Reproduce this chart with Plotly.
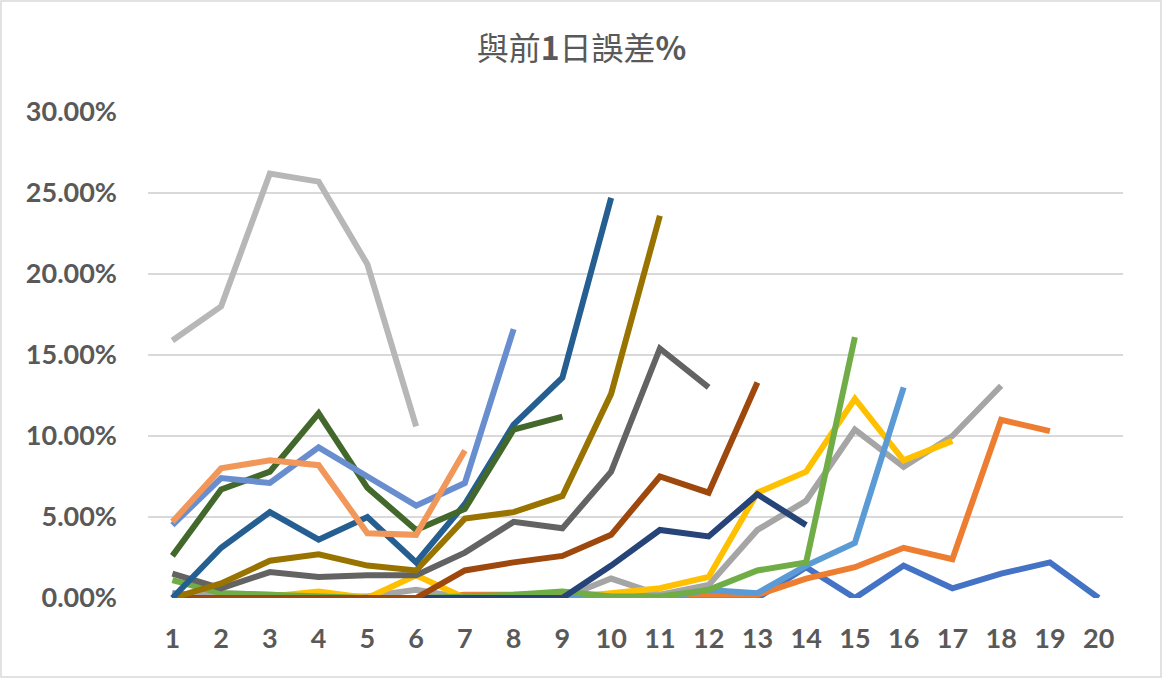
import plotly.graph_objects as go

categories = [str(i) for i in range(1, 21)]
N = None

s01 = [0.3, 0, 0, 0, 0, 0, 0, 0, 0, 0, 0, 0, 0, 1.9, 0, 2.0, 0.6, 1.5, 2.2, 0]
s02 = [0, 0, 0, 0, 0, 0, 0.2, 0.2, 0.2, 0.2, 0.2, 0.2, 0.2, 1.2, 1.9, 3.1, 2.4, 11.0, 10.3, N]
s03 = [0.2, 0.3, 0.2, 0.1, 0.1, 0.5, 0, 0, 0, 1.2, 0.2, 0.8, 4.2, 6.0, 10.4, 8.1, 10.0, 13.1, N, N]
s04 = [0, 0, 0.1, 0.4, 0, 1.4, 0, 0, 0, 0.3, 0.6, 1.3, 6.5, 7.8, 12.3, 8.5, 9.7, N, N, N]
s05 = [0, 0, 0, 0, 0, 0, 0, 0, 0, 0, 0, 0.5, 0.3, 2.0, 3.4, 13.0, N, N, N, N]
s06 = [1.1, 0.3, 0.2, 0.1, 0, 0, 0.1, 0.2, 0.4, 0.1, 0.1, 0.5, 1.7, 2.2, 16.1, N, N, N, N, N]
s07 = [0, 0, 0, 0, 0, 0, 0, 0, 0, 2.0, 4.2, 3.8, 6.4, 4.5, N, N, N, N, N, N]
s08 = [0, 0, 0, 0, 0, 0, 1.7, 2.2, 2.6, 3.9, 7.5, 6.5, 13.3, N, N, N, N, N, N, N]
s09 = [1.5, 0.6, 1.6, 1.3, 1.4, 1.4, 2.8, 4.7, 4.3, 7.8, 15.4, 13.0, N, N, N, N, N, N, N, N]
s10 = [0, 0.9, 2.3, 2.7, 2.0, 1.7, 4.9, 5.3, 6.3, 12.6, 23.6, N, N, N, N, N, N, N, N, N]
s11 = [0, 3.1, 5.3, 3.6, 5.0, 2.2, 5.8, 10.7, 13.6, 24.7, N, N, N, N, N, N, N, N, N, N]
s12 = [2.6, 6.7, 7.8, 11.4, 6.8, 4.2, 5.5, 10.4, 11.2, N, N, N, N, N, N, N, N, N, N, N]
s13 = [4.5, 7.4, 7.1, 9.3, 7.5, 5.7, 7.1, 16.6, N, N, N, N, N, N, N, N, N, N, N, N]
s14 = [4.7, 8.0, 8.5, 8.2, 4.0, 3.9, 9.1, N, N, N, N, N, N, N, N, N, N, N, N, N]
s15 = [15.9, 18.0, 26.2, 25.7, 20.6, 10.6, N, N, N, N, N, N, N, N, N, N, N, N, N, N]

series = [s01, s02, s03, s04, s05, s06, s07, s08, s09, s10, s11, s12, s13, s14, s15]
colors = ["#4472C4", "#ED7D31", "#A5A5A5", "#FFC000", "#5B9BD5", "#70AD47",
          "#264478", "#9E480E", "#636363", "#997300", "#255E91", "#43682B",
          "#698ED0", "#F1975A", "#B7B7B7"]

fig = go.Figure()
for i, (vals, c) in enumerate(zip(series, colors)):
    fig.add_trace(go.Scatter(
        x=categories,
        y=[v / 100 if v is not None else None for v in vals],
        mode="lines",
        name=f"Series{i+1}",
        line=dict(color=c, width=6, shape="linear"),
        connectgaps=False,
    ))

tick_font = dict(family="Lato", size=27, color="#595959", weight="bold")

fig.update_layout(
    width=1163, height=680,
    paper_bgcolor="white", plot_bgcolor="white",
    margin=dict(l=148, r=40, t=112, b=82),
    showlegend=False,
    title=dict(text="與前<b>1</b>日誤差<b>%</b>", x=0.5, xanchor="center", y=0.928, yanchor="middle",
               font=dict(family="Noto Sans CJK TC", size=32, color="#595959")),
    xaxis=dict(type="category", range=[-0.5, 19.5], showgrid=False, zeroline=False,
               showline=False, ticks="", ticklabelstandoff=22, tickfont=tick_font),
    yaxis=dict(range=[0, 0.30], dtick=0.05, tickformat=".2%", showgrid=True,
               gridcolor="#D9D9D9", gridwidth=2, zeroline=False, showline=False,
               ticks="", ticklabelstandoff=30, tickfont=tick_font),
    shapes=[dict(type="rect", xref="paper", yref="paper", x0=-147/975, x1=1+38/975,
                 y0=-79/486, y1=1+111/486, line=dict(color="#D9D9D9", width=1.5),
                 layer="below")],
)

fig.write_html("out.html")
